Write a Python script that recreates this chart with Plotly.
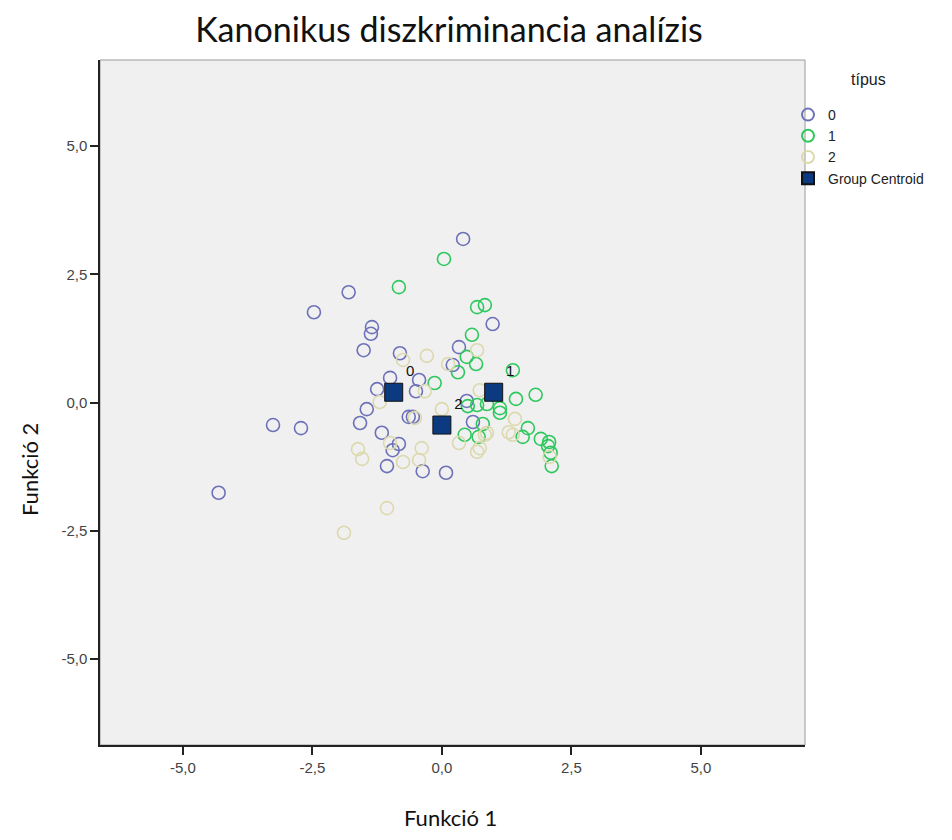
import plotly.graph_objects as go

# ---- data ----
g0_x = [-4.31, -3.26, -2.72, -2.47, -1.80, -1.35, -1.37, -1.51, -0.81, 0.41, 0.98, 0.33, 0.21, -1.00, -1.25,
        -0.44, -0.50, -1.45, -1.58, -1.16, -0.83, -0.95, -1.06, -0.37, 0.08, -0.64, -0.56, 0.48, 0.60]
g0_y = [-1.76, -0.44, -0.50, 1.76, 2.15, 1.47, 1.34, 1.02, 0.96, 3.19, 1.53, 1.08, 0.73, 0.48, 0.26,
        0.44, 0.22, -0.13, -0.40, -0.59, -0.81, -0.93, -1.24, -1.34, -1.37, -0.28, -0.28, 0.03, -0.38]

g1_x = [-0.83, 0.04, 0.68, 0.83, 0.58, 0.48, 0.66, 0.31, -0.14, 1.37, 1.81, 1.43, 0.87, 1.12, 1.12,
        0.68, 0.50, 0.79, 0.44, 0.71, 1.66, 1.56, 1.91, 2.07, 2.05, 2.10, 2.12]
g1_y = [2.25, 2.80, 1.86, 1.90, 1.32, 0.89, 0.75, 0.59, 0.38, 0.63, 0.15, 0.07, -0.03, -0.11, -0.20,
        -0.05, -0.07, -0.42, -0.63, -0.67, -0.50, -0.67, -0.71, -0.77, -0.85, -0.98, -1.24]

g2_x = [-1.89, -1.06, -1.62, -1.54, -1.20, -1.00, -0.75, -0.44, -0.39, -0.52, -0.75, -0.29, 0.12, 0.68,
        0.73, -0.33, 0.00, 0.33, 0.68, 0.87, 1.29, 1.37, 1.41, 0.83, 2.08, 0.73]
g2_y = [-2.54, -2.06, -0.91, -1.10, 0.01, -0.79, -1.16, -1.12, -0.89, -0.30, 0.83, 0.91, 0.75, 1.02,
        0.24, 0.22, -0.13, -0.79, -0.96, -0.59, -0.58, -0.63, -0.32, -0.63, -1.06, -0.89]

centroid_labels = ["0", "1", "2"]
centroid_x = [-0.93, 1.00, 0.00]
centroid_y = [0.20, 0.20, -0.44]

group_names = ["0", "1", "2"]
group_colors = ["#6d72b8", "#2fc85e", "#dcd9ae"]

tick_vals = [-5.0, -2.5, 0.0, 2.5, 5.0]
tick_text = ["-5,0", "-2,5", "0,0", "2,5", "5,0"]

# page body has an 8px margin; lay the figure out in page coordinates minus 8
OFF = 8
W, H = 952 - 2 * OFF, 840 - 2 * OFF
L, R, T, B = 100 - OFF, W - (805 - OFF), 60 - OFF, H - (745 - OFF)
PW, PH = W - L - R, H - T - B


def px(xp):
    return (xp - OFF - L) / PW


def py(yp):
    return (H - B - (yp - OFF)) / PH


fig = go.Figure()
for name, xs, ys, col in zip(group_names, [g0_x, g1_x, g2_x], [g0_y, g1_y, g2_y], group_colors):
    fig.add_trace(go.Scatter(
        x=xs, y=ys, mode="markers", name=name,
        marker=dict(symbol="circle-open", size=13, color=col, line=dict(width=1.6, color=col)),
    ))

fig.add_trace(go.Scatter(
    x=centroid_x, y=centroid_y, mode="markers+text", name="Group Centroid",
    text=centroid_labels, textposition="top right",
    textfont=dict(family="Arial, Liberation Sans", size=15, color="#111111"),
    marker=dict(symbol="square", size=18, color="#0b3a80", line=dict(width=1, color="#111111")),
))

label_font = dict(family="Lato, Open Sans", size=22, color="#111111")

fig.update_layout(
    width=W, height=H,
    margin=dict(l=L, r=R, t=T, b=B, autoexpand=False),
    paper_bgcolor="white",
    plot_bgcolor="#f0f0f0",
    title=dict(text="Kanonikus diszkriminancia analízis", x=(449 - OFF) / W, xref="container", xanchor="center",
               y=1 - (30 - OFF) / H, yref="container", yanchor="middle",
               font=dict(family="Lato, Open Sans", size=34, color="#111111")),
    showlegend=True,
    legend=dict(
        x=px(788), y=py(99), xanchor="left", yanchor="top",
        font=dict(family="Arial, Liberation Sans", size=14, color="#222222"),
        bgcolor="rgba(0,0,0,0)", itemsizing="constant", itemwidth=30,
    ),
    xaxis=dict(
        range=[-6.60, 7.01], tickvals=tick_vals, ticktext=tick_text, automargin=False,
        showgrid=False, zeroline=False, showline=True, linecolor="#222222", linewidth=1.5,
        ticks="outside", ticklen=8, tickcolor="#222222", tickwidth=1.5,
        tickfont=dict(family="Arial, Liberation Sans", size=15, color="#444444"),
    ),
    yaxis=dict(
        range=[-6.68, 6.68], tickvals=tick_vals, ticktext=tick_text, automargin=False,
        showgrid=False, zeroline=False, showline=True, linecolor="#222222", linewidth=1.5,
        ticks="outside", ticklen=8, tickcolor="#222222", tickwidth=1.5,
        tickfont=dict(family="Arial, Liberation Sans", size=15, color="#444444"),
    ),
    annotations=[
        dict(text="Funkció 2", textangle=-90, xref="paper", yref="paper",
             x=px(30), y=py(470), xanchor="center", yanchor="middle", showarrow=False,
             font=label_font),
        dict(text="Funkció 1", xref="paper", yref="paper",
             x=px(450), y=py(817), xanchor="center", yanchor="middle", showarrow=False,
             font=label_font),
        dict(text="típus", xref="paper", yref="paper",
             x=px(868), y=py(80), xanchor="center", yanchor="middle", showarrow=False,
             font=dict(family="Arial, Liberation Sans", size=16, color="#222222")),
    ],
    shapes=[dict(type="rect", xref="paper", yref="paper", x0=0, y0=0, x1=1, y1=1,
                 line=dict(color="#9a9a9a", width=1), layer="below")],
)

fig.write_html("out.html")
